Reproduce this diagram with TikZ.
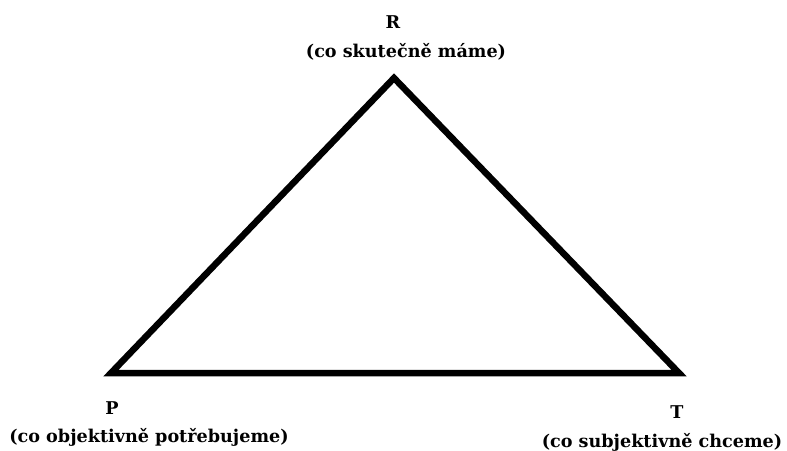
\documentclass[tikz,border=0pt]{standalone}
\usepackage{fontspec}
\setmainfont{DejaVu Serif}
\tikzset{
  lbl/.style={inner sep=0pt, font=\bfseries\fontsize{17.6}{21}\selectfont},
  edge/.style={line width=6.5pt, line join=miter, line cap=butt}
}
\begin{document}
\begin{tikzpicture}[x=1pt,y=-1pt]
\useasboundingbox[fill=white] (0,0) rectangle (787,450);
\coordinate (R) at (394,78);
\coordinate (P) at (111,373);
\coordinate (T) at (679,373);
\draw[edge] (P) -- (R) -- (T) -- cycle;
\node[lbl] (rl) at (393,22) {R};
\node[lbl] (rs) at (406,52) {(co skutečně máme)};
\node[lbl] (pl) at (112,408) {P};
\node[lbl] (ps) at (149,437) {(co objektivně potřebujeme)};
\node[lbl] (tl) at (677,412) {T};
\node[lbl] (ts) at (662,442) {(co subjektivně chceme)};
\end{tikzpicture}
\end{document}
